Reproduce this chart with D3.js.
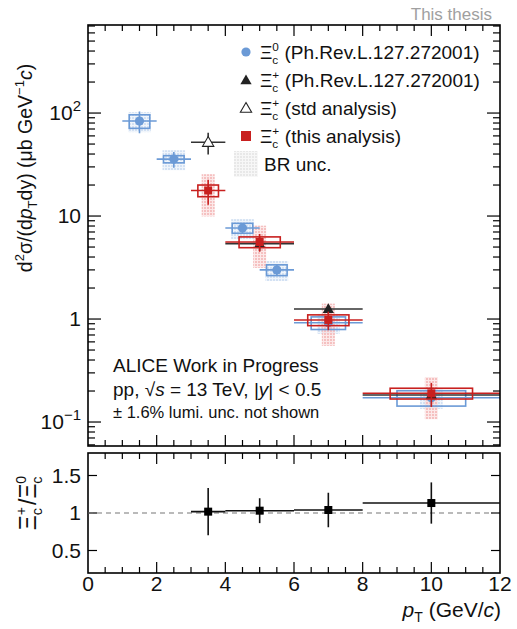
<!DOCTYPE html>
<html>
<head>
<meta charset="utf-8">
<script src="https://cdn.jsdelivr.net/npm/d3@7/dist/d3.min.js"></script>
<style>
  html, body { margin: 0; padding: 0; background: #fff; }
  svg { display: block; font-family: "Liberation Sans", Arial, Helvetica, sans-serif; }
</style>
</head>
<body>
<svg id="chart" width="517" height="629"></svg>
<script>
// ---- Xi_c^0 (Ph.Rev.L.127.272001) ----
const xi0PtLow   = [1, 2, 4, 5, 6, 8];
const xi0PtHigh  = [2, 3, 5, 6, 8, 12];
const xi0Value   = [83.6, 35.7, 7.65, 3.0, 0.92, 0.172];
const xi0StatErr = [20, 6.2, 0.9, 0.35, 0.12, 0.03];
const xi0SystRel = [0.15, 0.08, 0.11, 0.12, 0.14, 0.17];
const xi0BrRel   = 0.22;

// ---- Xi_c^+ (Ph.Rev.L.127.272001) ----
const xipPrlPtLow   = [4, 6, 8];
const xipPrlPtHigh  = [6, 8, 12];
const xipPrlValue   = [5.4, 1.25, 0.183];
const xipPrlStatErr = [0.8, 0.12, 0.02];

// ---- Xi_c^+ (std analysis) ----
const xipStdPtLow   = [3];
const xipStdPtHigh  = [4];
const xipStdValue   = [52];
const xipStdStatErr = [12.5];

// ---- Xi_c^+ (this analysis) ----
const xipPtLow   = [3, 4, 6, 8];
const xipPtHigh  = [4, 6, 8, 12];
const xipValue   = [17.7, 5.6, 0.98, 0.19];
const xipStatErr = [4.8, 1.1, 0.2, 0.05];
const xipSystRel = [0.13, 0.12, 0.12, 0.12];
const xipBrRel   = 0.44;

// ---- Ratio Xi_c^+ / Xi_c^0 ----
const ratioPtLow   = [3, 4, 6, 8];
const ratioPtHigh  = [4, 6, 8, 12];
const ratioValue   = [1.018, 1.031, 1.04, 1.133];
const ratioStatErr = [0.315, 0.166, 0.23, 0.275];

// ---- Axis ticks ----
const xTickLabels   = [0, 2, 4, 6, 8, 10, 12];
const yDecadeTicks  = [0.1, 1, 10, 100];
const ratioTicks    = [0.5, 1, 1.5];

const legendLabels = ["(Ph.Rev.L.127.272001)", "(Ph.Rev.L.127.272001)", "(std analysis)", "(this analysis)", "BR unc."];

// ---------------------------------------------------------------
const BLUE = "#6b9ad6", RED = "#c8201f";
const svg = d3.select("#chart");
const L = 88, R = 500, T1 = 25, B1 = 446, T2 = 453, B2 = 573;

const x = d3.scaleLinear().domain([0, 12]).range([L, R]);
const y = d3.scaleLog().domain([0.0585, 716]).range([B1, T1]);
const yr = d3.scaleLinear().domain([0.2, 1.8]).range([B2, T2]);

// dotted fill patterns for BR uncertainty bands
const defs = svg.append("defs");
function dotPattern(id, color) {
  const p = defs.append("pattern").attr("id", id).attr("width", 3).attr("height", 3)
    .attr("patternUnits", "userSpaceOnUse");
  p.append("rect").attr("width", 3).attr("height", 3).attr("fill", color).attr("fill-opacity", 0.35);
  p.append("rect").attr("width", 2).attr("height", 2).attr("fill", color);
}
dotPattern("brRed", "#f5c0c0");
dotPattern("brBlue", "#d3e1f3");
dotPattern("brGrey", "#e8e8e8");

defs.append("clipPath").attr("id", "clipTop").append("rect")
  .attr("x", L).attr("y", T1).attr("width", R - L).attr("height", B1 - T1);

const plot = svg.append("g").attr("clip-path", "url(#clipTop)");

const idx = a => a.map((_, i) => i);

// BR bands
plot.selectAll(".brBlue").data(idx(xi0Value)).join("rect")
  .attr("x", i => x((xi0PtLow[i] + xi0PtHigh[i]) / 2 - 0.33))
  .attr("width", i => x(0.66) - x(0))
  .attr("y", i => y(xi0Value[i] * (1 + xi0BrRel)))
  .attr("height", i => y(xi0Value[i] * (1 - xi0BrRel)) - y(xi0Value[i] * (1 + xi0BrRel)))
  .attr("fill", "url(#brBlue)");

plot.selectAll(".brRed").data(idx(xipValue)).join("rect")
  .attr("x", i => x((xipPtLow[i] + xipPtHigh[i]) / 2 - 0.19))
  .attr("width", i => x(0.38) - x(0))
  .attr("y", i => y(xipValue[i] * (1 + xipBrRel)))
  .attr("height", i => y(xipValue[i] * (1 - xipBrRel)) - y(xipValue[i] * (1 + xipBrRel)))
  .attr("fill", "url(#brRed)");

// systematic boxes
function systBoxes(lo, hi, val, rel, halfW, color) {
  plot.append("g").selectAll("rect").data(idx(val)).join("rect")
    .attr("x", i => x((lo[i] + hi[i]) / 2 - halfW(hi[i] - lo[i])))
    .attr("width", i => x(2 * halfW(hi[i] - lo[i])) - x(0))
    .attr("y", i => y(val[i] * (1 + rel[i])))
    .attr("height", i => y(val[i] * (1 - rel[i])) - y(val[i] * (1 + rel[i])))
    .attr("fill", "none").attr("stroke", color).attr("stroke-width", 1.6);
}
systBoxes(xi0PtLow, xi0PtHigh, xi0Value, xi0SystRel, w => Math.max(0.3, 0.25 * w), BLUE);

// stat error bars
function errBars(g, sx, sy, lo, hi, val, err, color) {
  const grp = g.append("g").attr("stroke", color).attr("stroke-width", 1.6);
  idx(val).forEach(i => {
    const xc = sx((lo[i] + hi[i]) / 2), yc = sy(val[i]);
    grp.append("line").attr("x1", sx(lo[i])).attr("x2", sx(hi[i])).attr("y1", yc).attr("y2", yc);
    grp.append("line").attr("x1", xc).attr("x2", xc).attr("y1", sy(val[i] + err[i])).attr("y2", sy(Math.max(val[i] - err[i], 1e-3)));
  });
}
errBars(plot, x, y, xi0PtLow, xi0PtHigh, xi0Value, xi0StatErr, BLUE);
errBars(plot, x, y, xipPrlPtLow, xipPrlPtHigh, xipPrlValue, xipPrlStatErr, "#333");
errBars(plot, x, y, xipStdPtLow, xipStdPtHigh, xipStdValue, xipStdStatErr, "#333");

const tri = d3.symbol().type(d3.symbolTriangle).size(55);
// Xi_c^0 markers
plot.append("g").selectAll("circle").data(idx(xi0Value)).join("circle")
  .attr("cx", i => x((xi0PtLow[i] + xi0PtHigh[i]) / 2)).attr("cy", i => y(xi0Value[i]))
  .attr("r", 4.6).attr("fill", BLUE);
// Xi_c^+ PRL markers
plot.append("g").selectAll("path").data(idx(xipPrlValue)).join("path")
  .attr("d", tri)
  .attr("transform", i => `translate(${x((xipPrlPtLow[i] + xipPrlPtHigh[i]) / 2)},${y(xipPrlValue[i]) + 0.8})`)
  .attr("fill", "#222");
// std analysis markers (open)
plot.append("g").selectAll("path").data(idx(xipStdValue)).join("path")
  .attr("d", tri)
  .attr("transform", i => `translate(${x((xipStdPtLow[i] + xipStdPtHigh[i]) / 2)},${y(xipStdValue[i]) + 0.8})`)
  .attr("fill", "#fff").attr("stroke", "#222").attr("stroke-width", 1.1);

// this analysis: boxes, error bars, markers
systBoxes(xipPtLow, xipPtHigh, xipValue, xipSystRel, w => 0.3 * w, RED);
errBars(plot, x, y, xipPtLow, xipPtHigh, xipValue, xipStatErr, RED);
plot.append("g").selectAll("rect").data(idx(xipValue)).join("rect")
  .attr("x", i => x((xipPtLow[i] + xipPtHigh[i]) / 2) - 4)
  .attr("y", i => y(xipValue[i]) - 4)
  .attr("width", 8).attr("height", 8).attr("fill", RED);

// ---- frames and ticks ----
function frame(top, bottom) {
  svg.append("rect").attr("x", L).attr("y", top).attr("width", R - L).attr("height", bottom - top)
    .attr("fill", "none").attr("stroke", "#000").attr("stroke-width", 1.6);
}
frame(T1, B1);
frame(T2, B2);

const ticks = svg.append("g").attr("stroke", "#000").attr("stroke-width", 1.2);
function xTicks(top, bottom) {
  d3.range(0, 12.01, 0.5).forEach(v => {
    const major = Math.abs(v / 2 - Math.round(v / 2)) < 1e-6;
    const len = major ? 11 : 6;
    const xp = x(v);
    if (v > 0 && v < 12) {
      ticks.append("line").attr("x1", xp).attr("x2", xp).attr("y1", bottom).attr("y2", bottom - len);
      ticks.append("line").attr("x1", xp).attr("x2", xp).attr("y1", top).attr("y2", top + len);
    }
  });
}
xTicks(T1, B1);
xTicks(T2, B2);

// log y ticks (top panel)
const yMinor = [];
[-2, -1, 0, 1, 2].forEach(k => d3.range(2, 10).forEach(m => yMinor.push(m * Math.pow(10, k))));
yMinor.filter(v => v > 0.0585 && v < 716).forEach(v => {
  const yp = y(v);
  ticks.append("line").attr("x1", L).attr("x2", L + 7).attr("y1", yp).attr("y2", yp);
  ticks.append("line").attr("x1", R).attr("x2", R - 7).attr("y1", yp).attr("y2", yp);
});
yDecadeTicks.forEach(v => {
  const yp = y(v);
  ticks.append("line").attr("x1", L).attr("x2", L + 13).attr("y1", yp).attr("y2", yp);
  ticks.append("line").attr("x1", R).attr("x2", R - 13).attr("y1", yp).attr("y2", yp);
});
ratioTicks.forEach(v => {
  const yp = yr(v);
  ticks.append("line").attr("x1", L).attr("x2", L + 9).attr("y1", yp).attr("y2", yp);
  ticks.append("line").attr("x1", R).attr("x2", R - 9).attr("y1", yp).attr("y2", yp);
});

// ---- tick labels ----
const FS = 21;
const xl = svg.append("g").attr("font-size", FS).attr("text-anchor", "middle").attr("fill", "#111");
xTickLabels.forEach(v => xl.append("text").attr("x", x(v)).attr("y", 591).text(v));

const yl = svg.append("g").attr("font-size", FS).attr("text-anchor", "end").attr("fill", "#111");
yDecadeTicks.forEach(v => {
  const t = yl.append("text").attr("x", 81).attr("y", y(v) + 7);
  const e = Math.round(Math.log10(v));
  if (e === 0) t.text("1");
  else if (e === 1) t.text("10");
  else {
    t.append("tspan").text("10");
    t.append("tspan").attr("dy", -9).attr("font-size", 15).text(e < 0 ? "\u2212" + (-e) : e);
  }
});
ratioTicks.forEach(v => yl.append("text").attr("x", 81).attr("y", yr(v) + 7).text(v));

// ---- axis titles ----
const xt = svg.append("text").attr("x", 501).attr("y", 617).attr("text-anchor", "end")
  .attr("font-size", FS).attr("fill", "#111");
xt.append("tspan").attr("font-style", "italic").text("p");
xt.append("tspan").attr("dy", 5).attr("font-size", 14).text("T");
xt.append("tspan").attr("dy", -5).text(" (GeV/");
xt.append("tspan").attr("font-style", "italic").text("c");
xt.append("tspan").text(")");

const YFS = 19.5;
const yt = svg.append("text").attr("transform", "translate(32,168) rotate(-90)")
  .attr("text-anchor", "middle").attr("font-size", YFS).attr("fill", "#111");
yt.append("tspan").text("d");
yt.append("tspan").attr("dy", -8).attr("font-size", 13).text("2");
yt.append("tspan").attr("dy", 8).text("\u03c3/(d");
yt.append("tspan").attr("font-style", "italic").text("p");
yt.append("tspan").attr("dy", 5).attr("font-size", 13).text("T");
yt.append("tspan").attr("dy", -5).text("dy) (\u03bcb GeV");
yt.append("tspan").attr("dy", -8).attr("font-size", 13).text("\u22121");
yt.append("tspan").attr("dy", 8).attr("font-style", "italic").text("c");
yt.append("tspan").text(")");

// Xi symbol with stacked subscript/superscript
function xiLabel(t, sup, size) {
  const s = size * 0.62;
  t.append("tspan").text("\u039e");
  t.append("tspan").attr("dy", size * 0.24).attr("font-size", s).text("c");
  t.append("tspan").attr("dx", -s * 0.5).attr("dy", -size * 0.66).attr("font-size", s).text(sup);
  t.append("tspan").attr("dy", size * 0.42).text("\u200a");
}
const RFS = 23;
const rt = svg.append("text").attr("transform", "translate(36,502) rotate(-90)")
  .attr("text-anchor", "middle").attr("font-size", RFS).attr("fill", "#111");
xiLabel(rt, "+", RFS);
rt.append("tspan").text("/");
xiLabel(rt, "0", RFS);

// ---- ratio panel ----
svg.append("line").attr("x1", x(0)).attr("x2", x(12)).attr("y1", yr(1)).attr("y2", yr(1))
  .attr("stroke", "#777").attr("stroke-width", 1.2).attr("stroke-dasharray", "5,4");
errBars(svg, x, yr, ratioPtLow, ratioPtHigh, ratioValue, ratioStatErr, "#111");
svg.append("g").selectAll("rect").data(idx(ratioValue)).join("rect")
  .attr("x", i => x((ratioPtLow[i] + ratioPtHigh[i]) / 2) - 4)
  .attr("y", i => yr(ratioValue[i]) - 4)
  .attr("width", 8).attr("height", 8).attr("fill", "#000");

// ---- legend ----
const LFS = 19;
const legendY = [52, 80, 108, 136, 164];
const lg = svg.append("g").attr("font-size", LFS).attr("fill", "#111");
lg.append("circle").attr("cx", 246).attr("cy", legendY[0]).attr("r", 4.6).attr("fill", BLUE);
lg.append("path").attr("d", tri).attr("transform", `translate(246,${legendY[1] + 1})`).attr("fill", "#222");
lg.append("path").attr("d", tri).attr("transform", `translate(246,${legendY[2] + 1})`)
  .attr("fill", "#fff").attr("stroke", "#222").attr("stroke-width", 1.1);
lg.append("rect").attr("x", 241).attr("y", legendY[3] - 5).attr("width", 10).attr("height", 10).attr("fill", RED);
lg.append("rect").attr("x", 234).attr("y", legendY[4] - 13).attr("width", 24).attr("height", 26).attr("fill", "url(#brGrey)");
["0", "+", "+", "+"].forEach((sup, i) => {
  const t = lg.append("text").attr("x", 260).attr("y", legendY[i] + 7);
  xiLabel(t, sup, LFS);
  t.append("tspan").attr("dx", 4).text(legendLabels[i]);
});
lg.append("text").attr("x", 264).attr("y", legendY[4] + 7).text(legendLabels[4]);

// ---- annotations ----
const an = svg.append("g").attr("fill", "#111");
an.append("text").attr("x", 113).attr("y", 372).attr("font-size", 19).text("ALICE Work in Progress");
const pp = an.append("text").attr("x", 113).attr("y", 396).attr("font-size", 19);
pp.append("tspan").text("pp, \u221a");
pp.append("tspan").attr("font-style", "italic").text("s");
pp.append("tspan").text(" = 13 TeV, |");
pp.append("tspan").attr("font-style", "italic").text("y");
pp.append("tspan").text("| < 0.5");
an.append("text").attr("x", 113).attr("y", 418).attr("font-size", 16.5).text("\u00b1 1.6% lumi. unc. not shown");

svg.append("text").attr("x", 492).attr("y", 20).attr("text-anchor", "end")
  .attr("font-size", 17).attr("fill", "#a0a0a0").text("This thesis");
</script>
</body>
</html>
